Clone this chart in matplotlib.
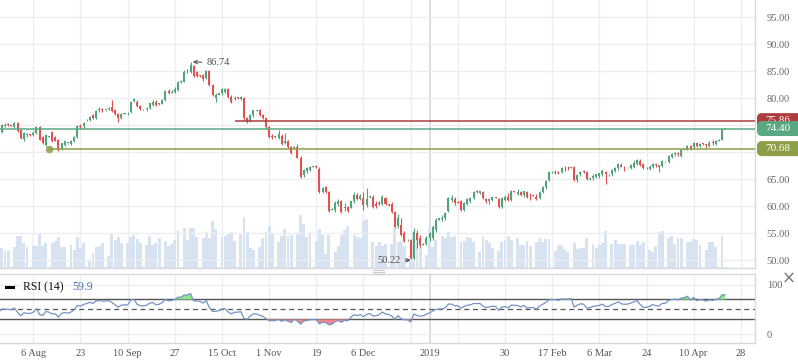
import numpy as np
import pandas as pd
import matplotlib
matplotlib.use("Agg")
import matplotlib.pyplot as plt
from matplotlib.patches import FancyBboxPatch
from matplotlib.lines import Line2D
from matplotlib.transforms import IdentityTransform

plt.rcParams['font.family'] = ['Liberation Serif', 'DejaVu Serif']

# ---------------- data (one line per week: Sun, Mon..Fri) ----------------
opens = [
    77.0, 77.1, 78.1, 78.9, 73.4, 74.5,
    75.3, 75.2, 71.8, 72.2, 72.9, 72.6,
    73.1, 73.0, 72.9, 73.8, 74.9, 75.2,
    75.0, 74.7, 75.5, 74.1, 72.5, 73.2,
    73.3, 73.2, 73.5, 74.7, 72.9, 71.4,
    72.9, 73.8, 72.9, 72.3, 70.6, 71.4,
    71.7, 71.5, 72.1, 72.9, 74.8, 74.8,
    75.9, 76.0, 76.9, 76.3, 77.9, 77.9,
    77.8, 78.0, 78.3, 77.8, 77.1, 76.3,
    77.1, 77.2, 77.5, 79.5, 79.4, 78.5,
    78.0, 78.0, 78.2, 78.8, 79.4, 78.9,
    79.0, 79.7, 81.4, 81.0, 81.1, 81.5,
    83.1, 83.1, 85.1, 84.9, 85.9, 84.9,
    84.2, 84.3, 83.7, 85.0, 82.5, 80.0,
    80.7, 80.9, 81.1, 81.8, 80.3, 79.9,
    80.1, 79.9, 80.0, 76.3, 75.8, 76.9,
    77.7, 77.8, 76.9, 76.3, 74.7, 72.9,
    72.85, 72.7, 73.0, 71.7, 72.1, 70.9,
    70.8, 71.0, 69.0, 65.8, 66.5, 66.7,
    67.3, 67.4, 66.9, 62.7, 63.5, 62.7,
    59.4, 59.3, 60.4, 61.0, 59.6, 59.8,
    59.7, 60.9, 62.0, 61.3, 61.5, 60.3,
    61.7, 61.8, 60.5, 60.6, 60.4, 61.6,
    60.3, 60.4, 59.0, 56.3, 56.6, 55.0,
    53.7, 53.7, 50.4, 55.0, 54.2,
    52.9, 53.1, 54.2, 54.2, 55.6,
    57.5, 57.6, 57.8, 59.1, 61.2, 61.4,
    60.8, 60.9, 59.3, 60.4, 61.0, 61.5,
    62.9, 62.4, 62.7, 61.3, 60.9, 61.2,
    61.6, 61.3, 59.8, 61.2, 61.8, 61.2,
    62.8, 62.3, 62.7, 62.1, 62.6, 62.1,
    62.0, 61.8, 61.6, 62.7, 63.6, 64.9,
    66.3, 66.2, 66.4, 66.4, 67.1, 67.1,
    67.1, 67.3, 64.9, 65.9, 66.5, 66.4,
    65.0, 65.2, 65.5, 65.6, 65.9, 66.3,
    65.9, 65.9, 66.6, 67.0, 67.7, 67.3,
    67.2, 67.1, 67.3, 67.9, 68.4, 67.8,
    67.1, 66.9, 67.3, 67.7, 67.3, 67.5,
    68.3, 68.2, 69.2, 69.6, 69.8, 69.3,
    70.5, 70.5, 71.2, 70.9, 71.7, 71.1,
    71.6, 71.5, 71.2, 71.9, 71.6,
    72.1, 72.3, 74.3,
]
highs = [
    77.2, 78.3, 79.2, 79.0, 74.7, 75.5,
    75.4, 75.3, 72.7, 73.1, 73.2, 73.4,
    73.2, 73.4, 74.3, 75.3, 75.4, 75.5,
    75.1, 75.6, 75.7, 74.3, 73.7, 73.6,
    73.4, 73.9, 74.9, 74.9, 73.1, 73.3,
    73.0, 74.0, 73.0, 72.4, 71.8, 72.1,
    71.8, 72.3, 73.0, 75.0, 75.2, 75.7,
    76.1, 76.8, 77.1, 77.9, 78.4, 78.2,
    77.9, 78.4, 79.6, 78.0, 77.3, 77.3,
    77.3, 77.5, 79.5, 80.1, 79.6, 78.7,
    78.1, 78.3, 79.2, 79.6, 79.6, 79.2,
    79.8, 81.6, 81.8, 81.5, 82.0, 83.2,
    83.3, 85.2, 85.4, 86.74, 86.2, 85.1,
    84.3, 84.5, 85.2, 85.2, 82.7, 80.9,
    81.0, 81.9, 81.9, 81.9, 80.6, 80.4,
    80.2, 80.5, 80.3, 76.6, 77.1, 77.9,
    77.8, 78.0, 77.0, 76.5, 74.9, 73.3,
    73.0, 74.1, 73.3, 73.5, 72.3, 71.1,
    71.1, 71.6, 69.3, 66.9, 67.2, 67.4,
    67.4, 67.6, 67.2, 63.5, 63.7, 62.9,
    59.6, 60.9, 61.3, 61.2, 60.6, 60.1,
    60.9, 62.6, 62.5, 62.3, 62.6, 63.4,
    61.9, 62.0, 60.9, 61.0, 62.0, 61.8,
    60.4, 60.8, 59.2, 58.5, 57.9, 55.4,
    53.9, 53.9, 55.9, 55.6, 54.6,
    53.2, 54.5, 55.3, 56.6, 57.8,
    57.9, 58.4, 59.0, 61.8, 62.0, 61.7,
    60.9, 61.1, 60.8, 61.6, 61.8, 62.9,
    63.0, 62.9, 62.9, 61.6, 61.5, 61.8,
    61.7, 61.5, 61.7, 62.0, 62.4, 63.0,
    62.9, 63.2, 62.9, 62.9, 62.8, 62.4,
    62.1, 62.3, 62.9, 63.8, 64.8, 66.5,
    66.5, 66.8, 66.6, 67.3, 67.4, 67.4,
    67.3, 67.5, 66.0, 66.6, 66.8, 66.6,
    65.3, 65.9, 66.0, 66.2, 66.9, 66.6,
    66.0, 66.9, 67.3, 68.1, 68.0, 67.5,
    67.3, 67.8, 68.6, 68.8, 68.7, 68.0,
    67.2, 67.6, 68.1, 68.0, 67.7, 68.5,
    68.4, 69.5, 69.9, 70.0, 70.1, 70.6,
    70.6, 71.4, 71.3, 71.9, 71.9, 71.8,
    71.7, 71.6, 72.0, 72.2, 72.3,
    72.4, 74.5, 74.45,
]
lows = [
    76.9, 76.9, 77.8, 73.2, 72.7, 73.9,
    75.0, 71.6, 71.0, 71.9, 71.8, 72.3,
    72.9, 72.5, 72.7, 73.6, 74.6, 74.8,
    74.8, 74.5, 73.8, 72.4, 72.0, 72.9,
    73.1, 73.0, 73.3, 72.2, 71.6, 71.2,
    72.8, 71.9, 72.0, 70.2, 70.4, 71.2,
    71.6, 71.3, 71.9, 72.7, 74.3, 74.5,
    75.8, 75.8, 76.1, 76.1, 77.5, 77.5,
    77.7, 77.8, 77.4, 76.9, 75.7, 76.1,
    77.0, 76.9, 77.3, 79.3, 78.3, 77.8,
    77.9, 77.7, 78.0, 78.6, 78.6, 78.7,
    78.9, 79.5, 80.8, 80.9, 80.9, 81.3,
    82.9, 83.0, 84.6, 84.7, 84.0, 84.0,
    84.0, 83.2, 83.5, 82.3, 80.4, 79.4,
    80.6, 80.7, 80.9, 80.1, 79.2, 79.6,
    79.9, 79.6, 76.0, 75.4, 75.6, 76.6,
    77.6, 76.7, 76.2, 74.4, 72.7, 72.5,
    72.7, 72.4, 71.4, 71.5, 70.8, 69.6,
    70.6, 68.9, 65.3, 65.4, 66.2, 66.5,
    67.2, 67.1, 62.4, 62.5, 62.5, 58.9,
    59.3, 58.9, 60.1, 58.8, 59.1, 59.0,
    59.6, 60.7, 61.2, 61.1, 59.4, 59.9,
    61.6, 59.6, 59.6, 60.2, 60.2, 60.2,
    60.1, 58.8, 56.0, 55.9, 54.5, 53.4,
    53.6, 50.22, 50.3, 52.2, 52.4,
    52.8, 52.9, 53.6, 53.8, 55.3,
    57.4, 57.3, 57.5, 58.9, 60.8, 60.3,
    60.6, 59.1, 59.2, 60.2, 60.6, 61.3,
    62.5, 62.3, 61.4, 60.7, 60.5, 61.0,
    61.5, 59.7, 59.6, 61.0, 61.0, 61.0,
    62.6, 62.0, 61.9, 61.8, 61.5, 61.2,
    61.9, 61.2, 61.4, 62.5, 63.2, 64.7,
    66.2, 66.0, 65.9, 66.2, 66.6, 66.8,
    67.0, 64.7, 64.5, 65.7, 66.2, 64.9,
    64.9, 64.9, 65.2, 65.3, 65.6, 64.07,
    65.7, 65.6, 66.4, 66.8, 67.2, 66.6,
    67.1, 66.9, 67.1, 67.7, 67.5, 66.9,
    66.9, 66.7, 67.1, 67.3, 66.4, 67.3,
    68.2, 68.0, 69.0, 69.4, 69.4, 69.1,
    70.4, 70.4, 70.4, 70.7, 70.9, 71.0,
    71.4, 70.8, 71.0, 71.4, 71.3,
    72.0, 72.2, 74.25,
]
closes = [
    77.1, 78.1, 78.9, 73.4, 74.5, 75.3,
    75.2, 71.8, 72.2, 72.9, 72.6, 73.1,
    73.0, 72.9, 74.1, 75.1, 75.1, 75.0,
    74.9, 75.4, 74.0, 72.6, 73.5, 73.3,
    73.2, 73.6, 74.7, 72.3, 71.8, 73.2,
    72.9, 72.1, 72.1, 70.4, 71.7, 72.0,
    71.7, 72.1, 72.9, 74.9, 74.6, 75.5,
    76.0, 76.6, 76.3, 77.7, 78.0, 77.8,
    77.9, 78.1, 77.6, 77.0, 76.3, 77.1,
    77.2, 77.2, 79.4, 79.9, 78.5, 78.0,
    77.95, 78.2, 79.1, 79.4, 78.8, 79.0,
    79.7, 81.4, 81.0, 81.2, 81.8, 83.1,
    83.2, 84.9, 85.0, 86.2, 84.2, 84.2,
    84.1, 83.6, 85.0, 82.5, 80.6, 80.7,
    80.9, 81.7, 81.8, 80.3, 79.4, 80.0,
    80.05, 80.2, 76.3, 75.7, 76.9, 77.8,
    77.7, 76.9, 76.3, 74.6, 72.9, 72.85,
    72.9, 73.3, 71.6, 72.1, 71.0, 69.8,
    70.9, 69.0, 65.5, 66.7, 67.0, 67.3,
    67.35, 67.3, 62.6, 63.3, 62.7, 59.2,
    59.5, 60.6, 61.0, 59.0, 59.9, 59.2,
    60.9, 62.1, 61.4, 61.9, 60.2, 61.3,
    61.8, 59.9, 60.0, 60.5, 61.8, 60.4,
    60.2, 59.0, 56.2, 57.9, 54.7, 53.6,
    53.7, 50.4, 55.3, 53.7, 52.8,
    53.1, 54.2, 55.0, 56.2, 57.5,
    57.8, 57.9, 58.7, 61.5, 61.6, 60.6,
    60.7, 59.3, 60.6, 61.4, 61.6, 62.7,
    62.6, 62.8, 61.6, 60.9, 61.3, 61.7,
    61.55, 59.9, 61.5, 61.8, 61.2, 62.8,
    62.7, 62.6, 62.1, 62.8, 61.8, 62.0,
    61.95, 61.4, 62.7, 63.6, 64.6, 66.3,
    66.4, 66.4, 66.2, 67.0, 67.0, 67.0,
    67.2, 64.9, 65.8, 66.4, 66.3, 65.0,
    65.2, 65.7, 65.9, 66.1, 66.6, 65.9,
    66.0, 66.7, 67.1, 67.8, 67.3, 67.2,
    67.25, 67.6, 68.1, 68.5, 67.7, 67.0,
    67.0, 67.3, 67.9, 67.6, 67.6, 68.3,
    68.35, 69.3, 69.7, 69.8, 69.7, 70.4,
    70.55, 71.2, 70.6, 71.7, 71.1, 71.6,
    71.5, 71.3, 71.8, 71.7, 72.1,
    72.3, 74.3, 74.40,
]
volumes = [
    1, 25, 27, 40, 30, 25,
    1, 35, 30, 26, 24, 22,
    1, 22, 22, 20, 17, 17,
    1, 21, 32, 32, 25, 21,
    1, 22, 22, 34, 22, 25,
    1, 25, 27, 31, 21, 21,
    1, 23, 18, 31, 20, 25,
    1, 7, 15, 21, 22, 25,
    1, 12, 34, 28, 31, 25,
    1, 25, 31, 33, 29, 25,
    1, 23, 32, 23, 25, 30,
    1, 27, 22, 24, 28, 37,
    1, 40, 28, 40, 40, 31,
    1, 30, 36, 30, 47, 39,
    1, 31, 32, 35, 36, 27,
    1, 34, 51, 36, 20, 18,
    1, 21, 30, 36, 42, 35,
    1, 26, 32, 39, 32, 33,
    1, 34, 53, 44, 31, 36,
    1, 27, 39, 33, 14, 33,
    1, 16, 22, 33, 38, 42,
    1, 33, 31, 30, 47, 49,
    1, 26, 22, 26, 22, 24,
    1, 24, 40, 26, 27, 22,
    1, 12, 37, 31, 22,
    1, 13, 39, 21, 28,
    1, 32, 30, 36, 31, 32,
    1, 26, 27, 31, 30, 26,
    1, 16, 31, 28, 25, 20,
    1, 17, 26, 28, 32, 28,
    1, 30, 23, 23, 27, 22,
    1, 26, 30, 26, 29, 29,
    1, 17, 23, 23, 19, 16,
    1, 25, 19, 20, 20, 30,
    1, 24, 20, 23, 25, 37,
    1, 24, 28, 24, 24, 24,
    1, 23, 23, 27, 23, 26,
    1, 18, 16, 22, 36, 37,
    1, 30, 32, 24, 30, 30,
    1, 26, 26, 29, 28, 23,
    1, 18, 26, 26, 21,
    1, 32, 1,
]
dates = pd.bdate_range('2018-07-08', '2019-04-23', freq='C',
                       weekmask='Sun Mon Tue Wed Thu Fri',
                       holidays=['2018-12-25', '2019-01-01', '2019-04-19'])

tick_dates = ['2018-08-06', '2018-08-23', '2018-09-10', '2018-09-27', '2018-10-15',
              '2018-11-01', '2018-11-19', '2018-12-06', '2019-01-02', '2019-01-30',
              '2019-02-17', '2019-03-06', '2019-03-24', '2019-04-10']
tick_labels = ['6 Aug', '23', '10 Sep', '27', '15 Oct', '1 Nov', '19', '6 Dec',
               '2019', '30', '17 Feb', '6 Mar', '24', '10 Apr', '28']
extra_grid_dates = ['2018-12-24', '2019-01-13']

level_values = [75.86, 74.40, 70.68]
level_colors = ['#ad3c3c', '#5aa882', '#8d9f46']
level_starts = ['2018-10-19', '2018-07-08', '2018-08-12']
peak_value, peak_date = 86.74, '2018-10-03'
low_value, low_date = 50.22, '2018-12-24'
rsi_label = '59.9'

# ---------------- prep ----------------
O = np.array(opens); Hh = np.array(highs); Lw = np.array(lows); C = np.array(closes)
V = np.array(volumes)
n = min(len(dates), len(C))
dates = dates[:n]
base = dates.get_loc(pd.Timestamp('2018-08-06'))
x = np.arange(n) - base

def pos(d):
    return dates.get_loc(pd.Timestamp(d)) - base

ticks = [pos(d) for d in tick_dates]
ticks.append(ticks[-1] + 15)
year_tick = pos('2019-01-02')
extra_ticks = [pos(d) for d in extra_grid_dates]

XLIM = (-10.59, 229.5)
W, Hpx = 798, 363
def rect(x0, y0, x1, y1):
    return [x0 / W, 1 - y1 / Hpx, (x1 - x0) / W, (y1 - y0) / Hpx]

fig = plt.figure(figsize=(W / 100, Hpx / 100), dpi=100)
ax_vol = fig.add_axes(rect(0, 0, 755, 267.7))
ax = fig.add_axes(rect(0, 0, 755, 267.7))
ax_rsi = fig.add_axes(rect(0, 274.3, 755, 343))
ax.set_facecolor('none')

grid_c = '#eceef1'
spine_c = '#d6d9de'

# volume + vertical grid
ax_vol.set_xlim(XLIM)
ax_vol.set_ylim(0, 267.7)
for t in ticks + extra_ticks:
    ax_vol.axvline(t, color=grid_c, lw=1.0, zorder=0)
ax_vol.axvline(year_tick, color='#d8dbdf', lw=1.3, zorder=0)
ax_vol.bar(x, V[:n], width=0.92, color='#d7e3f0', linewidth=0, zorder=1)
ax_vol.axis('off')

# price axes
ax.set_xlim(XLIM)
ax.set_ylim(48.63, 98.2)
for v in range(50, 100, 5):
    ax.axhline(v, color=grid_c, lw=1.0, zorder=0)

green, red = '#52a37c', '#e0514f'
up = C[:n] >= O[:n]
for mask, col in ((up, green), (~up, red)):
    ax.vlines(x[mask], Lw[:n][mask], Hh[:n][mask], color=col, lw=0.8, zorder=3)
    bottoms = np.minimum(O[:n], C[:n])[mask]
    heights = np.maximum(np.abs(C[:n] - O[:n])[mask], 0.14)
    ax.bar(x[mask], heights, bottom=bottoms, width=0.64, color=col, linewidth=0, zorder=3)

for val, col, st in zip(level_values, level_colors, level_starts):
    ax.hlines(val, pos(st), XLIM[1], color=col, lw=1.1, zorder=4)
ax.plot([pos(level_starts[2])], [level_values[2]], 'o', ms=5.5, color=level_colors[2],
        alpha=0.85, zorder=5, markeredgewidth=0)

ax.annotate(f'{peak_value:.2f}', xy=(pos(peak_date) + 0.7, peak_value),
            xytext=(pos(peak_date) + 5.1, peak_value - 0.2), ha='left', va='center',
            fontsize=7.5, color='#555555',
            arrowprops=dict(arrowstyle='->', color='#555555', lw=0.8,
                            mutation_scale=6, shrinkA=1.5, shrinkB=0))
ax.annotate(f'{low_value:.2f}', xy=(pos(low_date), low_value - 0.2),
            xytext=(pos(low_date) - 3.3, low_value - 0.2), ha='right', va='center',
            fontsize=7.5, color='#555555',
            arrowprops=dict(arrowstyle='->', color='#555555', lw=0.8,
                            mutation_scale=6, shrinkA=1.5, shrinkB=0))

ax.yaxis.tick_right()
ax.set_yticks(list(range(50, 100, 5)))
ax.set_yticklabels([f'{v:.2f}' for v in range(50, 100, 5)])
ax.tick_params(axis='y', length=0, pad=8.5, labelsize=7.5, labelcolor='#666666')
ax.set_xticks([])
for s in ('top', 'left'):
    ax.spines[s].set_visible(False)
for s in ('right', 'bottom'):
    ax.spines[s].set_color(spine_c)
    ax.spines[s].set_linewidth(1.0)

# RSI
cs = pd.Series(C[:n])
d = cs.diff().fillna(0)
ag = d.clip(lower=0).ewm(alpha=1 / 14, adjust=False).mean()
al = (-d.clip(upper=0)).ewm(alpha=1 / 14, adjust=False).mean()
rsi = (100 - 100 / (1 + ag / al.replace(0, np.nan))).fillna(50).values

ax_rsi.set_xlim(XLIM)
ax_rsi.set_ylim(-17.4, 120.6)
for t in ticks + extra_ticks:
    ax_rsi.axvline(t, color=grid_c, lw=1.0, zorder=0)
ax_rsi.axvline(year_tick, color='#d8dbdf', lw=1.3, zorder=0)
for v in (0, 100):
    ax_rsi.axhline(v, color=grid_c, lw=1.0, zorder=0)
ax_rsi.axhline(70, color='#555555', lw=1.0, zorder=1)
ax_rsi.axhline(30, color='#555555', lw=1.0, zorder=1)
ax_rsi.axhline(50, color='#555555', lw=0.9, ls=(0, (4, 3)), zorder=1)
ax_rsi.fill_between(x, rsi, 70, where=rsi > 70, interpolate=True, color='#8ee68e', lw=0, zorder=2)
ax_rsi.fill_between(x, rsi, 30, where=rsi < 30, interpolate=True, color='#f08888', lw=0, zorder=2)
ax_rsi.plot(x, rsi, color='#7393c6', lw=0.9, zorder=3)
ax_rsi.yaxis.tick_right()
ax_rsi.set_yticks([0, 100])
ax_rsi.set_yticklabels(['0', '100'])
ax_rsi.tick_params(axis='y', length=0, pad=8.5, labelsize=7.5, labelcolor='#666666')
ax_rsi.set_xticks(ticks)
ax_rsi.set_xticklabels(tick_labels)
ax_rsi.tick_params(axis='x', length=0, pad=4.5, labelsize=7.5, labelcolor='#555555')
ax_rsi.spines['left'].set_visible(False)
for s in ('top', 'bottom', 'right'):
    ax_rsi.spines[s].set_color(spine_c)
    ax_rsi.spines[s].set_linewidth(1.0)

# price tags on the right
z = 10
for val, col in zip(level_values, level_colors):
    yd = ax.transData.transform((0, val))[1]
    fig.add_artist(FancyBboxPatch((757, yd - 7.5), 50, 15,
                                  boxstyle='round,pad=0,rounding_size=5',
                                  transform=IdentityTransform(), fc=col, ec='none', zorder=z))
    fig.text(777.5 / W, yd / Hpx, f'{val:.2f}', ha='center', va='center', color='white',
             fontsize=8, zorder=z + 1)
    z += 2

# RSI legend
fig.add_artist(Line2D([6 / W, 13 / W], [1 - 287 / Hpx] * 2, color='black', lw=2.2))
fig.text(23 / W, 1 - 287 / Hpx, 'RSI (14)', ha='left', va='center', fontsize=8.5, color='#111111')
fig.text(72 / W, 1 - 287 / Hpx, rsi_label, ha='left', va='center', fontsize=8.5, color='#4a70b5')
fig.text(789 / W, 1 - 279 / Hpx, '×', ha='center', va='center', fontsize=12,
         color='#777777', family='DejaVu Sans')
for yy in (269.5, 271.5, 273.5):
    fig.add_artist(Line2D([373 / W, 384 / W], [1 - yy / Hpx] * 2, color='#c9cdd3', lw=0.8))

fig.savefig('out.png', dpi=100)
